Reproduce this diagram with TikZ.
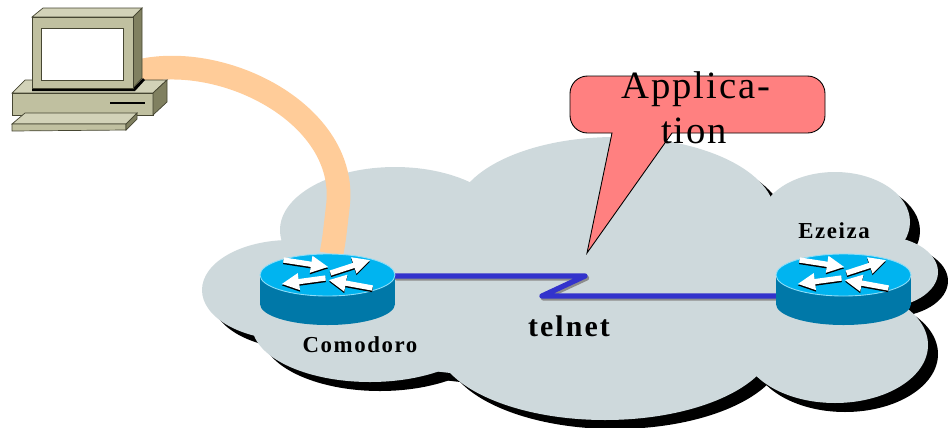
\documentclass[tikz,border=0pt]{standalone}
\usepackage{fontspec}
\setmainfont{Liberation Serif}
\newfontfamily\labelfont[LetterSpace=7]{Liberation Serif}
\usepackage{tikz}
\usetikzlibrary{arrows.meta,positioning,calc}
\definecolor{cloudgrey}{RGB}{206,217,220}
\definecolor{routertop}{RGB}{0,180,240}
\definecolor{routerside}{RGB}{0,120,168}
\definecolor{linkblue}{RGB}{51,51,204}
\definecolor{cablepeach}{RGB}{255,204,153}
\definecolor{calloutpink}{RGB}{255,128,128}
\definecolor{pcfront}{RGB}{192,192,160}
\definecolor{pctop}{RGB}{210,210,184}
\definecolor{pcside}{RGB}{128,128,96}
\definecolor{pcedge}{RGB}{70,70,50}
\tikzset{
  pcface/.style={fill=#1, draw=pcedge, line width=0.4pt},
  cable/.style={draw=cablepeach, line width=13.5pt},
  link/.style={draw=linkblue, line width=3pt, line join=round, line cap=round},
  linkshade/.style={link, draw=black!45},
  rtr/.style={inner sep=0pt, minimum width=2.7cm, minimum height=0.84cm},
  rarrow/.style={draw=white, line width=3pt, -{Triangle[length=10pt,width=9pt]}},
  rarrowshade/.style={rarrow, draw=black},
  lbl/.style={font=\labelfont\bfseries\fontsize{13}{15}\selectfont, text=black, inner sep=0pt},
  biglbl/.style={lbl, font=\labelfont\bfseries\fontsize{17}{20}\selectfont},
  callout/.style={fill=calloutpink, draw=black, line width=0.5pt},
  callouttext/.style={font=\addfontfeature{LetterSpace=5}\fontsize{22}{26}\selectfont, inner sep=0pt},
  router/.pic={
    % body and top
    \fill[routerside] (0,29) ellipse[x radius=67.5, y radius=21];
    \fill[routerside] (-67.5,0) rectangle (67.5,29);
    \fill[routertop] (0,0) ellipse[x radius=67.5, y radius=21];
    \draw[white!55!routertop, line width=0.5pt] (0,0) ellipse[x radius=67.5, y radius=21];
    % four arrows, two in and two out
    \foreach \ax/\ay/\bx/\by in {-44/-15/1/-8, 3/-2/43/-15, -2/3/-46/9, 45/13/1/5}{
      \draw[rarrowshade] (\ax,\ay+1.5) -- (\bx,\by+1.5);
      \draw[rarrow] (\ax,\ay) -- (\bx,\by);
    }
  },
}
\def\cloudlobes{290/290/88/50, 395/230/115/63, 615/215/160/78, 835/222/75/50, 880/272/58/36, 835/345/93/58, 605/340/170/80, 370/325/118/57}
\begin{document}
\begin{tikzpicture}[x=0.02cm,y=-0.02cm]
  \useasboundingbox (0,0) rectangle (948,427);
  % cloud, shadow first
  \begin{scope}[shift={(10,9)}]
    \foreach \cx/\cy/\rx/\ry in \cloudlobes{\fill[black] (\cx,\cy) ellipse[x radius=\rx, y radius=\ry];}
    \fill[black] (285,270) -- (400,200) -- (600,180) -- (780,205) -- (880,250) -- (905,300) -- (850,360) -- (600,390) -- (380,365) -- (270,320) -- cycle;
  \end{scope}
  \foreach \cx/\cy/\rx/\ry in \cloudlobes{\fill[cloudgrey] (\cx,\cy) ellipse[x radius=\rx, y radius=\ry];}
  \fill[cloudgrey] (285,270) -- (400,200) -- (600,180) -- (780,205) -- (880,250) -- (905,300) -- (850,360) -- (600,390) -- (380,365) -- (270,320) -- cycle;
  % routers
  \foreach \n/\px/\py in {como/327.5/275, eze/843.5/275}{\node[rtr] (\n) at (\px,\py) {};}
  \coordinate (pc) at (140,71);
  \draw[cable] (pc) .. controls (225,52) and (348,115) .. (338,205) .. controls (334,240) .. (como);
  % workstation
  \draw[pcface=pctop] (12,93) -- (25,80) -- (167,80) -- (153,93) -- cycle;
  \draw[pcface=pcfront] (12,93) rectangle (153,115);
  \draw[pcface=pcside] (153,93) -- (167,80) -- (167,102) -- (153,115) -- cycle;
  \draw[black, line width=1.2pt] (110,103) -- (145,103);
  \draw[pcface=pctop] (25,113) -- (137,113) -- (126,124) -- (12,124) -- cycle;
  \draw[pcface=pcfront] (12,124) -- (126,124) -- (126,130) -- (12,131) -- cycle;
  \draw[pcface=pcside] (126,124) -- (137,113) -- (137,119) -- (126,130) -- cycle;
  \fill[black] (32,87) -- (134,87) -- (143,78) -- (145,80) -- (135,91) -- (32,91) -- cycle;
  \draw[pcface=pctop] (32,17) -- (43,8) -- (142,8) -- (133,17) -- cycle;
  \draw[pcface=pcside] (133,17) -- (142,8) -- (142,78) -- (133,88) -- cycle;
  \draw[pcface=pcfront] (32,17) rectangle (133,88);
  \draw[pcface=white] (41,28) rectangle (123,80);
  % telnet link
  \coordinate (zig1) at (585,276);
  \coordinate (zig2) at (542,296);
  \draw[linkshade] ([shift={(1.5,2)}]como.east |- zig1) -- ([shift={(1.5,2)}]zig1) -- ([shift={(1.5,2)}]zig2) -- ([shift={(1.5,2)}]eze.west |- zig2);
  \draw[link] (como.east |- zig1) -- (zig1) -- (zig2) -- (eze.west |- zig2);
  \pic at (como) {router};
  \pic at (eze) {router};
  \node[lbl, anchor=base] (comolbl) at (360,352) {Comodoro};
  \node[lbl, anchor=base] (ezelbl) at (834,238) {Ezeiza};
  \node[biglbl, anchor=base] (telnet) at (569,336) {telnet};
  % callout
  \draw[callout] (612,133) -- (587,253) -- (672,133) [rounded corners=10pt] -- (825,133) -- (825,76) -- (570,76) -- (570,133) [sharp corners] -- cycle;
  \node[callouttext, anchor=base] (app1) at (696,98) {Applica-};
  \node[callouttext, anchor=base] (app2) at (694,143) {tion};
\end{tikzpicture}
\end{document}
